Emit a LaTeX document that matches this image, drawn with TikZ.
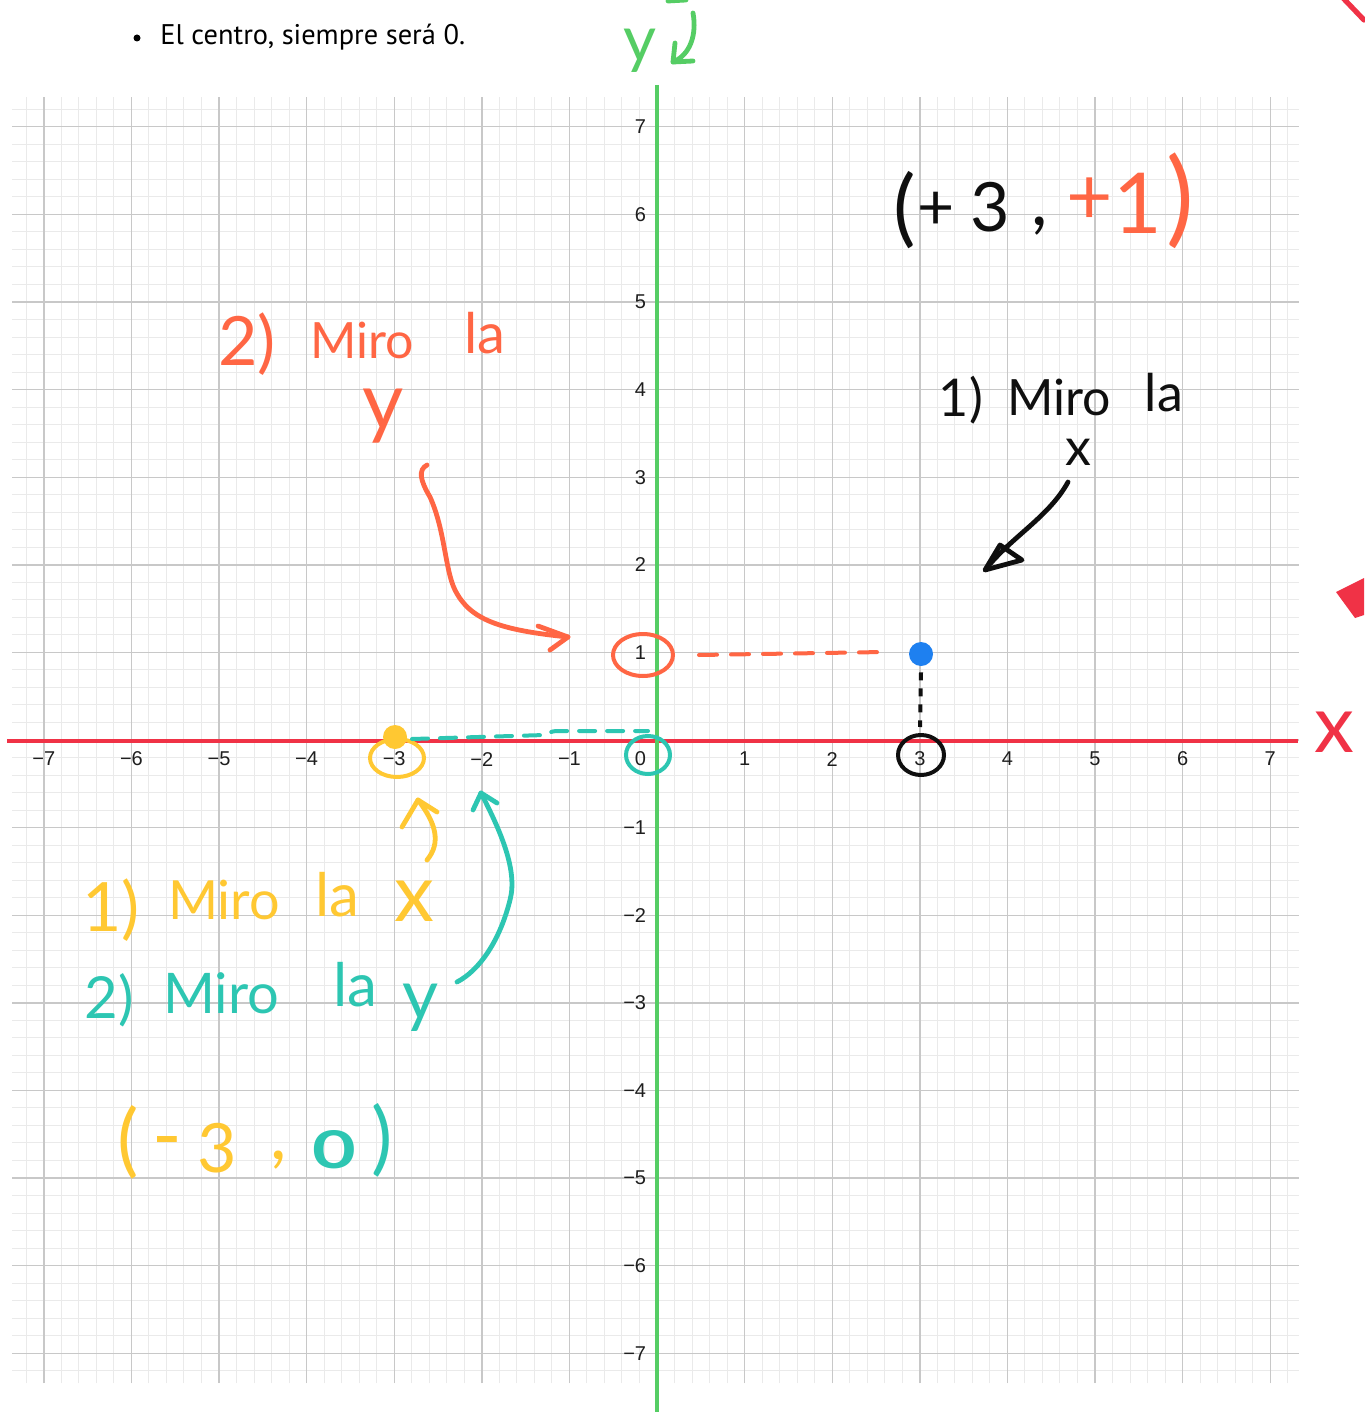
\documentclass[tikz,border=0pt]{standalone}
\usepackage{fontspec}
\setmainfont{Lato}
\newfontfamily\labfont{Liberation Sans}
\newfontfamily\topfont{PT Sans}
\usetikzlibrary{arrows.meta}
\definecolor{gridmaj}{RGB}{200,200,200}
\definecolor{gridmin}{RGB}{234,234,234}
\definecolor{labcol}{RGB}{30,30,30}
\definecolor{hwor}{RGB}{255,102,68}
\definecolor{hwye}{RGB}{255,200,50}
\definecolor{hwte}{RGB}{45,198,178}
\definecolor{hwbk}{RGB}{15,15,15}
\definecolor{axred}{RGB}{240,50,70}
\definecolor{axgreen}{RGB}{85,205,100}
\definecolor{dotbl}{RGB}{30,128,240}
\newcommand{\fsz}[1]{\fontsize{#1}{#1}\selectfont}
\tikzset{
  minorline/.style={draw=gridmin, line width=0.5pt},
  majorline/.style={draw=gridmaj, line width=0.7pt},
  lab/.style={inner sep=0, font=\labfont\fsz{10}, text=labcol},
  hw/.style={inner sep=0},
  stroke/.style={line width=2.4pt, line cap=round, line join=round},
  ring/.style={line width=2pt, line cap=round},
}
\begin{document}
\begin{tikzpicture}[x=0.5pt,y=-0.5pt]
\useasboundingbox (0,0) rectangle (1364,1412);
\fill[white] (0,0) rectangle (1364,1412);

% grid and axis labels
\begin{scope}[shift={(657,740)},x=43.8pt,y=43.8pt]
  \foreach \k in {-36,...,36} {
    \draw[minorline] (\k/5,-7.34) -- (\k/5,7.34);
    \draw[minorline] (-7.36,\k/5) -- (7.33,\k/5);
  }
  \foreach \k in {-7,...,7} {
    \draw[majorline] (\k,-7.34) -- (\k,7.34);
    \draw[majorline] (-7.36,\k) -- (7.33,\k);
  }
  \foreach \k in {1,...,7} {
    \node[lab] (xp\k) at (\k,-0.217) {\k};
    \node[lab] (xn\k) at (-\k,-0.217) {−\k};
    \node[lab,anchor=east] (yp\k) at (-0.12,\k) {\k};
    \node[lab,anchor=east] (yn\k) at (-0.12,-\k) {−\k};
  }
  \node[lab] (x0) at (-0.19,-0.217) {0};
\end{scope}

% axes
\draw[axred, line width=2.2pt] (7,741) -- (1298,741);
\draw[axgreen, line width=2.2pt] (657,85) -- (657,1412);

% title
\fill[black] (137,38) circle (3.5);
\node[anchor=base west, inner sep=0, font=\topfont\fsz{14.2}] (title) at (160,45) {El centro, siempre será 0.};

% green y label at top
\node[hw, text=axgreen, font=\fsz{32}] (ylab) at (640,51) {y};
\coordinate (ga0) at (693,13);
\coordinate (ga1) at (673,62);
\draw[stroke, axgreen] (ga0) .. controls (697,35) and (690,55) .. (ga1);
\draw[stroke, axgreen] (675,43) -- (ga1) -- (693,61);
\draw[stroke, axgreen] (668,1) -- (686,0);

% red x label and fragments
\node[hw, text=axred, font=\fsz{40}] (xlab) at (1334,732) {x};
\draw[axred, line width=2.6pt, line cap=round] (1343,-2) -- (1364,20);
\fill[axred] (1336,592) -- (1364,578) -- (1364,615) -- (1355,618) -- cycle;

% (+3 , +1)
\node[hw, text=hwbk, font=\fsz{42}] (pa1) at (905,210) {(};
\node[hw, text=hwbk, font=\fsz{32}] (pl1) at (936,211) {+};
\node[hw, text=hwbk, font=\fsz{34}] (th1) at (990,207) {3};
\node[hw, text=hwbk, font=\fsz{36}] (cm1) at (1040,226) {,};
\node[hw, text=hwor, font=\fsz{40}] (pl2) at (1090,201) {+};
\node[hw, text=hwor, font=\fsz{42}] (on1) at (1138,203) {1};
\node[hw, text=hwor, font=\fsz{52}] (pa2) at (1180,201) {)};

% black: 1) Miro la x
\node[hw, text=hwbk, font=\fsz{26}] (b1) at (961,400) {1)};
\node[hw, text=hwbk, font=\fsz{25}] (b2) at (1059,397) {Miro};
\node[hw, text=hwbk, font=\fsz{26}] (b3) at (1164,393) {la};
\node[hw, text=hwbk, font=\fsz{26}] (b4) at (1078,452) {x};
\coordinate (ba0) at (1068,482);
\coordinate (ba1) at (990,564);
\draw[stroke, hwbk] (ba0) .. controls (1050,515) and (1015,535) .. (ba1);
\draw[stroke, hwbk] (985,570) -- (1000,545) -- (1022,560) -- cycle;

% orange: 2) Miro la y
\node[hw, text=hwor, font=\fsz{34}] (o1) at (247,344) {2)};
\node[hw, text=hwor, font=\fsz{25}] (o2) at (362,340) {Miro};
\node[hw, text=hwor, font=\fsz{28}] (o3) at (485,333) {la};
\node[hw, text=hwor, font=\fsz{40}] (o4) at (383,416) {y};
\coordinate (oa0) at (427,465);
\coordinate (oa1) at (568,637);
\draw[stroke, hwor] (oa0) .. controls (418,470) and (420,480) .. (430,497)
  .. controls (445,530) and (445,570) .. (455,590)
  .. controls (470,620) and (500,630) .. (oa1);
\draw[stroke, hwor] (538,626) -- (oa1) -- (550,650);

% point (3,1) construction
\draw[ring, hwor] (643,655) ellipse (30 and 21);
\draw[hwor, line width=2pt, line cap=round, dash pattern=on 9pt off 7pt] (699,655) -- (884,652);
\node[circle, fill=dotbl, inner sep=0, minimum size=12pt] (P) at (921,654) {};
\draw[hwbk, line width=2pt, dash pattern=on 4pt off 4pt] (P.south) ++(0,6) -- (920,727);
\draw[ring, hwbk] (921,755) ellipse (23 and 20);

% point (-3,0) construction
\draw[ring, hwte] (648,755) ellipse (22 and 19);
\draw[ring, hwye] (397,758) ellipse (27 and 19);
\node[circle, fill=hwye, inner sep=0, minimum size=12pt] (Q) at (395,737) {};
\draw[hwte, line width=2pt, line cap=round, dash pattern=on 8pt off 6pt] (412,739) -- (545,735) .. controls (552,731) .. (565,731) -- (648,731);

% yellow / teal labels
\node[hw, text=hwye, font=\fsz{34}] (y1) at (111,910) {1)};
\node[hw, text=hwye, font=\fsz{27}] (y2) at (224,900) {Miro};
\node[hw, text=hwye, font=\fsz{30}] (y3) at (337,895) {la};
\node[hw, text=hwye, font=\fsz{40}] (y4) at (414,901) {x};
\coordinate (ya0) at (427,860);
\coordinate (ya1) at (418,800);
\draw[stroke, hwye] (ya0) .. controls (442,842) and (435,822) .. (ya1);
\draw[stroke, hwye] (402,827) -- (ya1) -- (437,812);

\node[hw, text=hwte, font=\fsz{29}] (t1) at (109,1000) {2)};
\node[hw, text=hwte, font=\fsz{28}] (t2) at (221,993) {Miro};
\node[hw, text=hwte, font=\fsz{30}] (t3) at (355,985) {la};
\node[hw, text=hwte, font=\fsz{35}] (t4) at (421,1008) {y};
\coordinate (ta0) at (457,982);
\coordinate (ta1) at (481,793);
\draw[stroke, hwte] (ta0) .. controls (480,970) and (500,940) .. (510,900)
  .. controls (518,870) and (500,830) .. (ta1);
\draw[stroke, hwte] (473,810) -- (ta1) -- (497,803);

% (-3 , 0)
\node[hw, text=hwye, font=\fsz{40}] (qa1) at (128,1142) {(};
\node[hw, text=hwye, font=\fsz{40}] (qm) at (167,1150) {-};
\node[hw, text=hwye, font=\fsz{34}] (q3) at (217,1148) {3};
\node[hw, text=hwye, font=\fsz{36}] (qc) at (279,1160) {,};
\node[hw, text=hwte, font=\bfseries\fsz{26}] (q0) at (334,1150) {\scalebox{1.45}[1]{0}};
\node[hw, text=hwte, font=\fsz{40}] (qa2) at (382,1140) {)};
\end{tikzpicture}
\end{document}
